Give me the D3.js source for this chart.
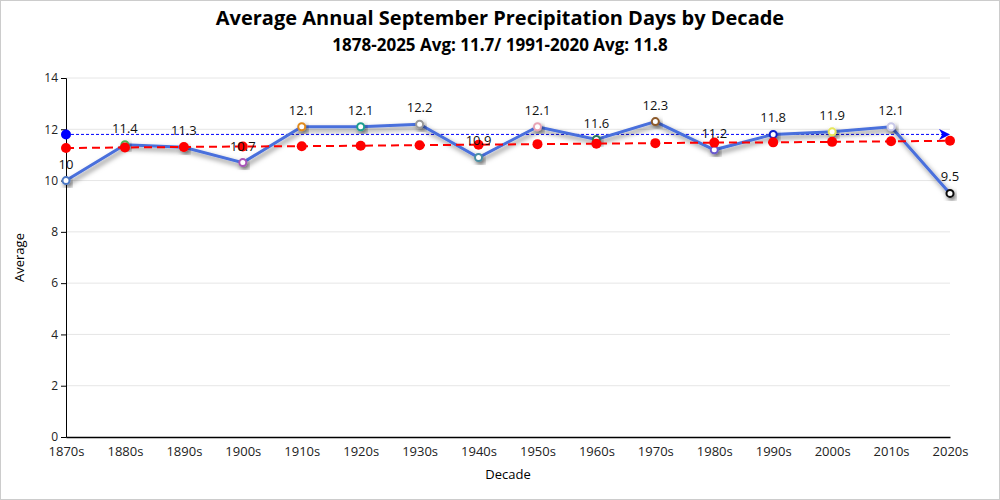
<!DOCTYPE html>
<html>
<head>
<meta charset="utf-8">
<script src="https://cdn.jsdelivr.net/npm/d3@7"></script>
<style>
  html, body { margin: 0; padding: 0; background: #fff; }
  #chart { width: 998px; height: 498px; border: 1px solid #cccccc; }
  text { font-family: "Open Sans", "Noto Sans", sans-serif; }
</style>
</head>
<body>
<div id="chart"></div>
<script>
// Chart data
const decades = ["1870s", "1880s", "1890s", "1900s", "1910s", "1920s", "1930s", "1940s",
                 "1950s", "1960s", "1970s", "1980s", "1990s", "2000s", "2010s", "2020s"];
const averages = [10, 11.4, 11.3, 10.7, 12.1, 12.1, 12.2, 10.9, 12.1, 11.6, 12.3, 11.2, 11.8, 11.9, 12.1, 9.5];
const trend = [11.27, 11.29, 11.31, 11.33, 11.34, 11.36, 11.38, 11.40,
               11.42, 11.44, 11.46, 11.48, 11.49, 11.51, 11.53, 11.55];
const normal = 11.8; // 1991-2020 average
const markerColors = ["#4e79c4", "#4caf50", "#e15759", "#a855b8", "#e08a1e", "#1f9e8e", "#9a9a9a", "#4a8fa3",
                      "#e8a5b5", "#2e7d5b", "#8c5a2b", "#6a5acd", "#1020c8", "#e6e65a", "#c8c8e8", "#111111"];
const yTicks = [0, 2, 4, 6, 8, 10, 12, 14];

const width = 998, height = 498;
const margin = {top: 77, right: 49, bottom: 62, left: 65};

const svg = d3.select("#chart").append("svg")
    .attr("width", width)
    .attr("height", height);

// drop shadow for the line and markers
const defs = svg.append("defs");
const shadow = defs.append("filter").attr("id", "shadow")
    .attr("x", "-50%").attr("y", "-50%").attr("width", "200%").attr("height", "200%");
shadow.append("feDropShadow")
    .attr("dx", 2).attr("dy", 3).attr("stdDeviation", 2.5)
    .attr("flood-color", "#000").attr("flood-opacity", 0.5);

defs.append("marker").attr("id", "arrow")
    .attr("viewBox", "0 0 10 10")
    .attr("refX", 10).attr("refY", 5)
    .attr("markerWidth", 16).attr("markerHeight", 11)
    .attr("markerUnits", "userSpaceOnUse")
    .attr("orient", "auto")
  .append("path")
    .attr("d", "M0,0 L10,5 L0,10 L3,5 Z")
    .attr("fill", "blue");

const x = d3.scalePoint()
    .domain(decades)
    .range([margin.left, width - margin.right]);

const y = d3.scaleLinear()
    .domain([0, 14])
    .range([height - margin.bottom, margin.top]);

// Title
svg.append("text")
    .attr("x", width / 2).attr("y", 24)
    .attr("text-anchor", "middle")
    .style("font-size", "20px").style("font-weight", "bold")
    .text("Average Annual September Precipitation Days by Decade");

svg.append("text")
    .attr("x", width / 2).attr("y", 50)
    .attr("text-anchor", "middle")
    .style("font-size", "17px").style("font-weight", "bold")
    .text("1878-2025 Avg: 11.7/ 1991-2020 Avg: 11.8");

// Gridlines
svg.append("g")
  .selectAll("line")
  .data(yTicks.slice(1))
  .enter().append("line")
    .attr("x1", margin.left).attr("x2", width - margin.right)
    .attr("y1", d => y(d)).attr("y2", d => y(d))
    .attr("stroke", "#e6e6e6");

// Axes
const yAxis = svg.append("g")
    .attr("transform", "translate(" + margin.left + ",0)")
    .call(d3.axisLeft(y).tickValues(yTicks).tickSize(5).tickPadding(3));
yAxis.select(".domain").attr("stroke", "#000");
yAxis.selectAll("text").style("font-size", "12px").attr("fill", "#222");

const xAxis = svg.append("g")
    .attr("transform", "translate(0," + y(0) + ")")
    .call(d3.axisBottom(x).tickSize(0).tickPadding(10));
xAxis.select(".domain").attr("stroke", "#000").attr("stroke-width", 1.5);
xAxis.selectAll("text").style("font-size", "13px").attr("fill", "#222");

// Axis labels
svg.append("text")
    .attr("x", (margin.left + width - margin.right) / 2).attr("y", 478)
    .attr("text-anchor", "middle")
    .style("font-size", "13px")
    .text("Decade");

svg.append("text")
    .attr("transform", "translate(23," + (y(7)) + ") rotate(-90)")
    .attr("text-anchor", "middle")
    .style("font-size", "13px")
    .text("Average");

// 1991-2020 normal line
svg.append("line")
    .attr("x1", x(decades[0])).attr("x2", x(decades[decades.length - 1]))
    .attr("y1", y(normal)).attr("y2", y(normal))
    .attr("stroke", "blue").attr("stroke-width", 1)
    .attr("stroke-dasharray", "3,2")
    .attr("marker-end", "url(#arrow)");

svg.append("circle")
    .attr("cx", x(decades[0])).attr("cy", y(normal))
    .attr("r", 5).attr("fill", "blue");

// Main line
const line = d3.line()
    .x((d, i) => x(decades[i]))
    .y(d => y(d));

svg.append("path")
    .datum(averages)
    .attr("fill", "none")
    .attr("stroke", "#4a6fdc")
    .attr("stroke-width", 3)
    .attr("filter", "url(#shadow)")
    .attr("d", line);

svg.append("g")
  .selectAll("circle")
  .data(averages)
  .enter().append("circle")
    .attr("cx", (d, i) => x(decades[i]))
    .attr("cy", d => y(d))
    .attr("r", 3.5)
    .attr("fill", "#fff")
    .attr("stroke", (d, i) => markerColors[i])
    .attr("stroke-width", 2)
    .attr("filter", "url(#shadow)");

// Trend line
svg.append("path")
    .datum(trend)
    .attr("fill", "none")
    .attr("stroke", "red")
    .attr("stroke-width", 2)
    .attr("stroke-dasharray", "8,5")
    .attr("d", line);

svg.append("g")
  .selectAll("circle")
  .data(trend)
  .enter().append("circle")
    .attr("cx", (d, i) => x(decades[i]))
    .attr("cy", d => y(d))
    .attr("r", 5)
    .attr("fill", "red");

// Value labels
svg.append("g")
  .selectAll("text")
  .data(averages)
  .enter().append("text")
    .attr("x", (d, i) => x(decades[i]))
    .attr("y", d => y(d) - 12)
    .attr("text-anchor", "middle")
    .style("font-size", "13px")
    .attr("fill", "#111")
    .text(d => d);
</script>
</body>
</html>
